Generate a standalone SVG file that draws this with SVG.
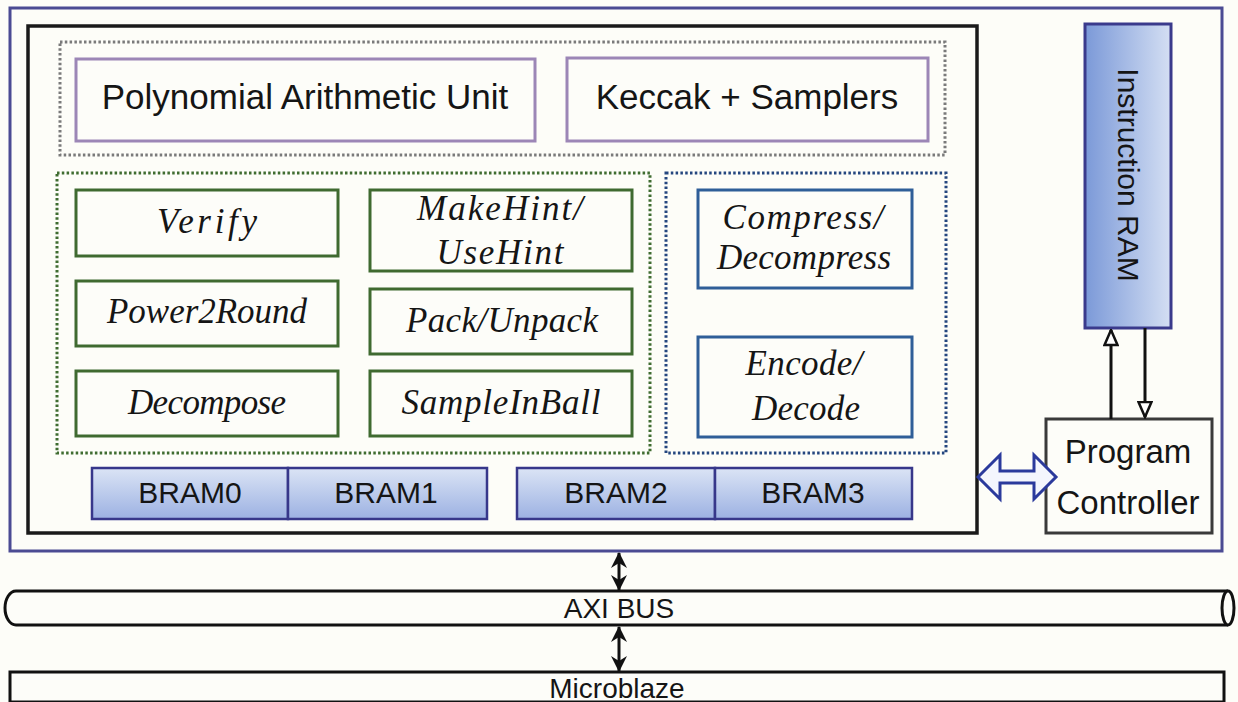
<svg xmlns="http://www.w3.org/2000/svg" width="1238" height="702" viewBox="0 0 1238 702">
  <style>
    .sans { font-family: "Liberation Sans", Arial, sans-serif; fill: #151515; }
    .math { font-family: "Liberation Serif", "Times New Roman", serif; font-style: italic; font-size: 35px; fill: #151515; }
    .frame { fill: none; stroke: #4b4b93; stroke-width: 3; }
    .core { fill: none; stroke: #1a1a1a; stroke-width: 3.5; }
    .dots { fill: none; stroke-width: 3; stroke-dasharray: 2.5 2.3; }
    .purple { fill: #fdfdf9; stroke: #9c86b6; stroke-width: 3; }
    .green { fill: #fdfdf9; stroke: #3f6a30; stroke-width: 3; }
    .blue { fill: #fdfdf9; stroke: #2f5e98; stroke-width: 3; }
    .bram { fill: url(#bramFill); stroke: #37378a; stroke-width: 2.5; }
    .wire { fill: none; stroke: #111; stroke-width: 3; }
  </style>
  <defs>
    <linearGradient id="bramFill" x1="0" y1="0" x2="0" y2="1">
      <stop offset="0" stop-color="#dbe4f5"/>
      <stop offset="1" stop-color="#9cb1e2"/>
    </linearGradient>
    <linearGradient id="ramFill" x1="0" y1="0" x2="1" y2="0">
      <stop offset="0" stop-color="#7b99d8"/>
      <stop offset="1" stop-color="#d4dff3"/>
    </linearGradient>
    <marker id="openHead" viewBox="0 0 18 16" refX="16.5" refY="8" markerWidth="18" markerHeight="16" markerUnits="userSpaceOnUse" orient="auto-start-reverse">
      <path d="M1.5,1.5 L16.5,8 L1.5,14.5 z" fill="#fff" stroke="#111" stroke-width="2.5"/>
    </marker>
    <marker id="solidHead" viewBox="0 0 16 16" refX="15" refY="8" markerWidth="16" markerHeight="16" markerUnits="userSpaceOnUse" orient="auto-start-reverse">
      <path d="M0,0 L16,8 L0,16 L5,8 z" fill="#111"/>
    </marker>
  </defs>

  <rect width="1238" height="702" fill="#fdfdf8"/>

  <!-- accelerator frame and datapath core -->
  <rect id="accelerator" class="frame" x="10" y="8" width="1212" height="543"/>
  <rect id="core" class="core" x="28" y="26" width="949" height="507"/>

  <!-- arithmetic / hashing units -->
  <g id="arith-group">
    <rect class="dots" stroke="#7a7a7a" x="60" y="42" width="885" height="113"/>
  </g>
  <g id="poly-unit">
    <rect class="purple" x="76" y="59" width="459" height="82"/>
    <text class="sans" x="305" y="109" font-size="35" text-anchor="middle">Polynomial Arithmetic Unit</text>
  </g>
  <g id="keccak">
    <rect class="purple" x="567" y="58" width="361" height="83"/>
    <text class="sans" x="747" y="109" font-size="35" text-anchor="middle">Keccak + Samplers</text>
  </g>

  <!-- helper function units -->
  <g id="helper-group">
    <rect class="dots" stroke="#3f6c30" x="57" y="173" width="593" height="280"/>
  </g>
  <g id="verify">
    <rect class="green" x="76" y="190" width="262" height="66"/>
    <text class="math" x="207" y="233" text-anchor="middle" textLength="100" lengthAdjust="spacing">Verify</text>
  </g>
  <g id="hint">
    <rect class="green" x="370" y="190" width="262" height="81"/>
    <text class="math" x="500" y="220" text-anchor="middle" textLength="166" lengthAdjust="spacing">MakeHint/</text>
    <text class="math" x="500" y="264" text-anchor="middle" textLength="127" lengthAdjust="spacing">UseHint</text>
  </g>
  <g id="power2round">
    <rect class="green" x="76" y="281" width="262" height="65"/>
    <text class="math" x="207" y="323" text-anchor="middle" textLength="200" lengthAdjust="spacing">Power2Round</text>
  </g>
  <g id="pack">
    <rect class="green" x="370" y="289" width="262" height="65"/>
    <text class="math" x="502" y="332" text-anchor="middle" textLength="192" lengthAdjust="spacing">Pack/Unpack</text>
  </g>
  <g id="decompose">
    <rect class="green" x="76" y="371" width="262" height="65"/>
    <text class="math" x="207" y="414" text-anchor="middle" textLength="158" lengthAdjust="spacing">Decompose</text>
  </g>
  <g id="sampleinball">
    <rect class="green" x="370" y="371" width="262" height="65"/>
    <text class="math" x="501" y="414" text-anchor="middle" textLength="199" lengthAdjust="spacing">SampleInBall</text>
  </g>

  <!-- coding units -->
  <g id="coding-group">
    <rect class="dots" stroke="#24467f" x="666" y="173" width="280" height="280"/>
  </g>
  <g id="compress">
    <rect class="blue" x="698" y="190" width="214" height="98"/>
    <text class="math" x="803" y="229" text-anchor="middle" textLength="161" lengthAdjust="spacing">Compress/</text>
    <text class="math" x="804" y="269" text-anchor="middle" textLength="174" lengthAdjust="spacing">Decompress</text>
  </g>
  <g id="encode">
    <rect class="blue" x="698" y="337" width="214" height="100"/>
    <text class="math" x="804" y="375" text-anchor="middle" textLength="117" lengthAdjust="spacing">Encode/</text>
    <text class="math" x="806" y="420" text-anchor="middle" textLength="108" lengthAdjust="spacing">Decode</text>
  </g>

  <!-- block RAMs -->
  <g id="bram0">
    <rect class="bram" x="92" y="468" width="196" height="51"/>
    <text class="sans" x="190" y="503" font-size="30" text-anchor="middle">BRAM0</text>
  </g>
  <g id="bram1">
    <rect class="bram" x="288" y="468" width="199" height="51"/>
    <text class="sans" x="386" y="503" font-size="30" text-anchor="middle">BRAM1</text>
  </g>
  <g id="bram2">
    <rect class="bram" x="517" y="468" width="198" height="51"/>
    <text class="sans" x="616" y="503" font-size="30" text-anchor="middle">BRAM2</text>
  </g>
  <g id="bram3">
    <rect class="bram" x="715" y="468" width="197" height="51"/>
    <text class="sans" x="813" y="503" font-size="30" text-anchor="middle">BRAM3</text>
  </g>

  <!-- control -->
  <g id="instruction-ram">
    <rect x="1085" y="24" width="86" height="304" fill="url(#ramFill)" stroke="#3a3a8c" stroke-width="3"/>
    <text class="sans" font-size="30" text-anchor="middle" transform="translate(1118,175) rotate(90)">Instruction RAM</text>
  </g>
  <g id="program-controller">
    <rect x="1046" y="419" width="166" height="114" fill="#fdfdf9" stroke="#3a3a3a" stroke-width="3"/>
    <text class="sans" x="1128" y="463" font-size="33" text-anchor="middle">Program</text>
    <text class="sans" x="1128" y="514" font-size="33" text-anchor="middle">Controller</text>
  </g>

  <!-- system bus -->
  <g id="axi-bus">
    <path d="M1228,591 L16,591 A11,17 0 0 0 16,625 L1228,625" fill="#fdfdf9" stroke="#111" stroke-width="3"/>
    <ellipse cx="1228" cy="608" rx="6" ry="17" fill="#fdfdf9" stroke="#111" stroke-width="3"/>
    <text class="sans" x="619" y="618" font-size="28" text-anchor="middle">AXI BUS</text>
  </g>
  <g id="microblaze">
    <rect x="10" y="672" width="1214" height="30" fill="#fdfdf9" stroke="#111" stroke-width="3"/>
    <text class="sans" x="617" y="698" font-size="28" text-anchor="middle">Microblaze</text>
  </g>

  <!-- connectors -->
  <g id="connectors">
    <line class="wire" x1="1111" y1="419" x2="1111" y2="330" marker-end="url(#openHead)"/>
    <line class="wire" x1="1145" y1="328" x2="1145" y2="417" marker-end="url(#openHead)"/>
    <path d="M978,477 L1000,455 L1000,471 L1034,471 L1034,455 L1056,477 L1034,499 L1034,483 L1000,483 L1000,499 Z" fill="#f4f6fd" stroke="#2b3a9c" stroke-width="3" stroke-linejoin="miter"/>
    <line class="wire" x1="619" y1="553" x2="619" y2="590" marker-start="url(#solidHead)" marker-end="url(#solidHead)"/>
    <line class="wire" x1="619" y1="627" x2="619" y2="671" marker-start="url(#solidHead)" marker-end="url(#solidHead)"/>
  </g>
</svg>
